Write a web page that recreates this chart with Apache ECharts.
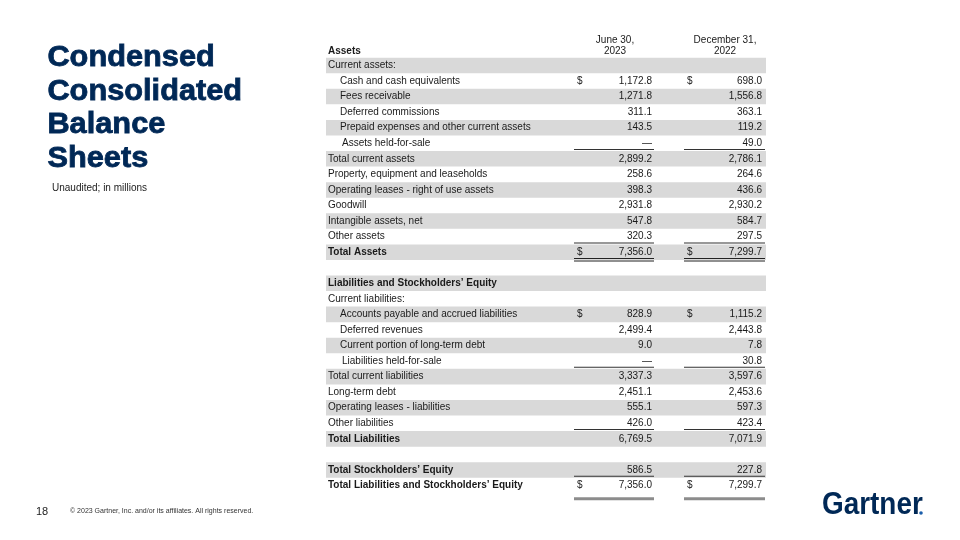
<!DOCTYPE html>
<html>
<head>
<meta charset="utf-8">
<script src="https://cdn.jsdelivr.net/npm/echarts@6/dist/echarts.min.js"></script>
<style>html,body{margin:0;padding:0;background:#fff}#c{width:960px;height:540px}</style>
</head>
<body>
<div id="c"></div>
<script>
const rowLabels = [
  'Current assets:', 'Cash and cash equivalents', 'Fees receivable', 'Deferred commissions',
  'Prepaid expenses and other current assets', 'Assets held-for-sale', 'Total current assets',
  'Property, equipment and leaseholds', 'Operating leases - right of use assets', 'Goodwill',
  'Intangible assets, net', 'Other assets', 'Total Assets', '',
  'Liabilities and Stockholders\u2019 Equity', 'Current liabilities:',
  'Accounts payable and accrued liabilities', 'Deferred revenues', 'Current portion of long-term debt',
  'Liabilities held-for-sale', 'Total current liabilities', 'Long-term debt',
  'Operating leases - liabilities', 'Other liabilities', 'Total Liabilities', '',
  'Total Stockholders\u2019 Equity', 'Total Liabilities and Stockholders\u2019 Equity'
];
// row kinds: head (plain, not indented), item (indented), sub (indented more), row, total (bold), blank
const rowKinds = [
  'head','item','item','item','item','sub','row','row','row','row','row','row','total','blank',
  'total','head','item','item','item','sub','row','row','row','row','total','blank','total','total'
];
const june2023 = [null,1172.8,1271.8,311.1,143.5,0,2899.2,258.6,398.3,2931.8,547.8,320.3,7356.0,null,
  null,null,828.9,2499.4,9.0,0,3337.3,2451.1,555.1,426.0,6769.5,null,586.5,7356.0];
const dec2022 = [null,698.0,1556.8,363.1,119.2,49.0,2786.1,264.6,436.6,2930.2,584.7,297.5,7299.7,null,
  null,null,1115.2,2443.8,7.8,30.8,3597.6,2453.6,597.3,423.4,7071.9,null,227.8,7299.7];
const dollarRows = [1, 12, 16, 27];
const ruleRows = {5:'single', 11:'single', 12:'double', 19:'single', 23:'single', 26:'single', 27:'heavy'};
const colHeaders = ['June 30,\n2023', 'December 31,\n2022'];
const sectionTitle = 'Assets';

const NAVY = '#002856';
const TXT = '#1a1a1a';
const FONT = '"Liberation Sans", Arial, sans-serif';
const FS = '10px ';

function fmt(v){
  if (v === null) return '';
  if (v === 0) return '\u2014';
  return v.toLocaleString('en-US', {minimumFractionDigits:1, maximumFractionDigits:1});
}

const chart = echarts.init(document.getElementById('c'), null, {renderer:'canvas'});

function renderItem(params, api){
  const i = api.value(1);
  const c = api.coord([0, i]);
  const h = api.size([0, 1])[1];
  const cs = params.coordSys;
  const yc = c[1];
  const top = yc - h/2, bot = yc + h/2;
  const left = cs.x, right = cs.x + cs.width;
  const kind = rowKinds[i];
  const bold = kind === 'total';
  const font = (bold ? 'bold ' : '') + FS + FONT;
  const children = [];
  if (i % 2 === 0 && kind !== 'blank') {
    children.push({type:'rect', shape:{x:left, y:top, width:right-left, height:h}, style:{fill:'#d9d9d9'}});
  }
  const lx = kind === 'item' ? left + 14 : (kind === 'sub' ? left + 16 : left + 2);
  children.push({type:'text', style:{text:rowLabels[i], x:lx, y:yc, font:font, fill:TXT, textAlign:'left', textVerticalAlign:'middle'}});
  const cols = [{d:left+251, r:left+326, ul:left+248, ur:left+328}, {d:left+361, r:left+436, ul:left+358, ur:left+439}];
  const vals = [june2023[i], dec2022[i]];
  cols.forEach((col, k) => {
    if (dollarRows.indexOf(i) >= 0) {
      children.push({type:'text', style:{text:'$', x:col.d, y:yc, font:FS + FONT, fill:TXT, textAlign:'left', textVerticalAlign:'middle'}});
    }
    children.push({type:'text', style:{text:fmt(vals[k]), x:col.r, y:yc, font:FS + FONT, fill:TXT, textAlign:'right', textVerticalAlign:'middle'}});
    const rule = ruleRows[i];
    if (rule === 'single') {
      children.push({type:'rect', shape:{x:col.ul, y:bot-2, width:col.ur-col.ul, height:1}, style:{fill:'#333'}});
    } else if (rule === 'double') {
      children.push({type:'rect', shape:{x:col.ul, y:bot-2, width:col.ur-col.ul, height:1}, style:{fill:'#222'}});
      children.push({type:'rect', shape:{x:col.ul, y:bot+0.5, width:col.ur-col.ul, height:1}, style:{fill:'#222'}});
    } else if (rule === 'heavy') {
      children.push({type:'rect', shape:{x:col.ul, y:bot+4, width:col.ur-col.ul, height:3}, style:{fill:'#8c8c8c'}});
    }
  });
  return {type:'group', children:children};
}

const titleLines = ['Condensed', 'Consolidated', 'Balance', 'Sheets'];
const graphics = titleLines.map((t, k) => ({
  type:'text', left:47, top:43 + k*33.7, scaleX:1.06,
  style:{text:t, font:'bold 29px ' + FONT, fill:NAVY, stroke:NAVY, lineWidth:0.8}
}));
graphics.push(
  {type:'text', left:52, top:183, style:{text:'Unaudited; in millions', font:'10px ' + FONT, fill:'#222'}},
  {type:'text', left:36, top:506, style:{text:'18', font:'11px ' + FONT, fill:'#222'}},
  {type:'text', left:70, top:508, style:{text:'\u00a9 2023 Gartner, Inc. and/or its affiliates. All rights reserved.', font:'7px ' + FONT, fill:'#333'}},
  {type:'text', left:822, top:490, scaleX:0.9, style:{text:'Gartner', font:'bold 31px ' + FONT, fill:NAVY}},
  {type:'circle', shape:{cx:921, cy:513, r:1.8}, style:{fill:'#1a5eab'}},
  {type:'text', x:328, y:51, style:{text:sectionTitle, font:'bold ' + FS + FONT, fill:TXT, textVerticalAlign:'middle'}},
  {type:'text', x:615, y:46, style:{text:colHeaders[0], font:FS + FONT, fill:TXT, textAlign:'center', textVerticalAlign:'middle', lineHeight:11}},
  {type:'text', x:725, y:46, style:{text:colHeaders[1], font:FS + FONT, fill:TXT, textAlign:'center', textVerticalAlign:'middle', lineHeight:11}}
);

chart.setOption({
  animation:false,
  backgroundColor:'#fff',
  grid:{left:326, right:194, top:57.7, bottom:46.7},
  xAxis:{type:'value', min:0, max:1, show:false},
  yAxis:{type:'category', inverse:true, show:false, data:rowLabels.map((_, i) => String(i))},
  graphic:graphics,
  series:[{
    type:'custom',
    renderItem:renderItem,
    encode:{x:0, y:1},
    data:rowLabels.map((_, i) => [0, i])
  }]
});
</script>
</body>
</html>
